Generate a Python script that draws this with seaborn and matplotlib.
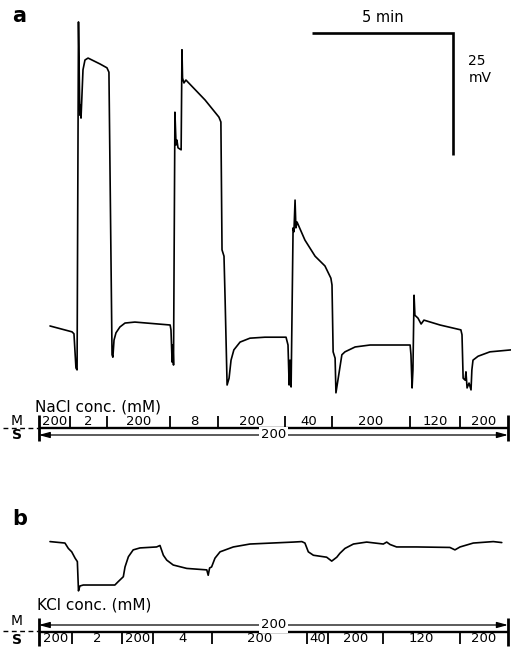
import numpy as np
import pandas as pd
import matplotlib
matplotlib.use("Agg")
import matplotlib.pyplot as plt
import matplotlib.transforms as mtransforms
import seaborn as sns

# ---- Panel a: potential recorded while the NaCl concentration is switched ----
# time in min, potential in mV (relative to the 200 mM level)
time_a = [0, 0.78, 0.85, 0.92, 0.96, 1.01, 1.05, 1.06, 1.08, 1.10, 1.17, 1.24, 1.35, 1.77,
          2.02, 2.09, 2.20, 2.23, 2.27, 2.34, 2.48, 2.66, 3.01, 4.26, 4.29, 4.33, 4.36, 4.38,
          4.43, 4.47, 4.50, 4.54, 4.65, 4.68, 4.70, 4.75, 4.82, 5.50, 5.99, 6.06, 6.10, 6.17,
          6.21, 6.28, 6.35, 6.42, 6.52, 6.74, 7.09, 7.62, 8.16, 8.37, 8.44, 8.48, 8.51, 8.55,
          8.62, 8.65, 8.69, 8.72, 8.76, 9.04, 9.40, 9.75, 9.96, 10.00, 10.04, 10.11, 10.14,
          10.21, 10.35, 10.46, 10.82, 11.35, 12.77, 12.80, 12.84, 12.87, 12.91, 12.94, 13.05,
          13.16, 13.26, 13.83, 14.57, 14.61, 14.65, 14.72, 14.75, 14.79, 14.86, 14.93, 14.96,
          15.00, 15.18, 15.60, 16.35]
volt_a = [-0.2, -1.4, -1.8, -8.8, -9.2, 62.1, 46.1, 43.0, 45.1, 42.4, 52.3, 54.3, 54.7, 53.5,
          52.7, 51.8, -6.1, -6.6, -3.1, -1.6, -0.4, 0.4, 0.6, 0.0, -1.0, -7.6, -4.1, -8.2,
          43.6, 36.9, 37.9, 36.3, 35.9, 56.4, 50.6, 49.6, 50.2, 46.1, 42.6, 41.6, 15.4, 14.1,
          5.1, -12.3, -10.9, -7.2, -5.1, -3.5, -2.7, -2.5, -2.5, -2.5, -4.1, -12.3, -7.2, -12.7,
          19.9, 19.1, 25.6, 19.9, 21.1, 17.4, 14.1, 12.1, 9.6, 8.2, -5.5, -6.8, -13.9,
          -11.3, -6.1, -5.5, -4.5, -4.1, -4.1, -6.1, -12.9, -9.2, 6.1, 2.0, 1.4,
          0.2, 1.0, 0.0, -1.0, -2.0, -10.9, -11.3, -9.6, -12.9, -11.9, -13.3, -9.2,
          -7.2, -6.4, -5.5, -5.1]

# ---- Panel b: potential recorded while the KCl concentration is switched ----
time_b = [0, 0.53, 0.65, 0.77, 0.89, 0.97, 1.00, 1.01, 1.06, 1.18, 2.30, 2.42, 2.60, 2.66,
          2.78, 2.95, 3.19, 3.78, 3.90, 4.02, 4.14, 4.37, 4.85, 5.56, 5.61, 5.66, 5.73, 5.85,
          6.03, 6.50, 7.09, 8.63, 8.93, 9.04, 9.16, 9.34, 9.81, 9.99, 10.17, 10.28, 10.46,
          10.76, 11.23, 11.82, 11.94, 12.06, 12.29, 13.00, 14.18, 14.36, 14.54, 15.01, 15.72,
          16.02]
volt_b = [0.7, 0.4, -0.7, -1.4, -2.7, -3.4, -7.9, -9.4, -8.4, -8.2, -8.2, -7.5, -6.5, -4.5,
          -2.4, -1.0, -0.6, -0.4, -0.1, -2.1, -3.1, -4.1, -4.8, -5.1, -6.2, -4.7, -4.5, -2.7,
          -1.4, -0.4, 0.2, 0.6, 0.7, 0.4, -1.4, -2.1, -2.5, -3.3, -2.5, -1.7, -0.7,
          0.2, 0.6, 0.2, 0.6, 0.1, -0.4, -0.4, -0.5, -1.0, -0.4, 0.4, 0.7,
          0.5]

# ---- Solution schedules: switching times (min) and concentrations (mM) ----
nacl_bounds = [-0.40, 0.71, 2.02, 4.26, 5.96, 8.33, 10.00, 12.77, 14.54, 16.24]
nacl_conc = ["200", "2", "200", "8", "200", "40", "200", "120", "200"]
nacl_other_side = "200"

kcl_bounds = [-0.40, 0.78, 2.55, 3.65, 5.74, 9.11, 9.86, 11.81, 14.54, 16.24]
kcl_conc = ["200", "2", "200", "4", "200", "40", "200", "120", "200"]
kcl_other_side = "200"

# calibration bars
scale_minutes = 5
scale_millivolts = 25

sns.set_theme(style="white")
plt.rcParams["font.family"] = ["DejaVu Sans"]
plt.rcParams["text.color"] = "black"

W, H = 511, 653
PX_MIN = 28.2      # horizontal scale, px per minute
PX_MV = 4.88       # vertical scale, px per mV
T_LEFT = -50 / PX_MIN
T_RIGHT = (W - 50) / PX_MIN

fig = plt.figure(figsize=(W / 100, H / 100), dpi=100)
fig.patch.set_facecolor("white")


def add_axes(top_px, bottom_px):
    ax = fig.add_axes([0, 1 - bottom_px / H, 1, (bottom_px - top_px) / H])
    ax.set_axis_off()
    return ax


# ---- trace axes ----
ax_a = add_axes(0, 395)
sns.lineplot(data=pd.DataFrame({"t": time_a, "v": volt_a}), x="t", y="v", sort=False,
             estimator=None, color="black", linewidth=1.2, ax=ax_a)
ax_a.set_xlim(T_LEFT, T_RIGHT)
ax_a.set_ylim((325 - 395) / PX_MV, 325 / PX_MV)
ax_a.set_axis_off()

ax_b = add_axes(500, 600)
sns.lineplot(data=pd.DataFrame({"t": time_b, "v": volt_b}), x="t", y="v", sort=False,
             estimator=None, color="black", linewidth=1.2, ax=ax_b)
ax_b.set_xlim(T_LEFT, T_RIGHT)
ax_b.set_ylim((545 - 600) / PX_MV, (545 - 500) / PX_MV)
ax_b.set_axis_off()

# ---- calibration bars (5 min / 25 mV) ----
corner_t, corner_v = 14.29, 59.8
ax_a.plot([corner_t - scale_minutes, corner_t, corner_t],
          [corner_v, corner_v, corner_v - scale_millivolts],
          color="black", lw=1.9, solid_joinstyle="miter", solid_capstyle="butt")
ax_a.text(corner_t - scale_minutes / 2, corner_v + 1.6, f"{scale_minutes} min",
          ha="center", va="bottom", fontsize=10.5)
ax_a.text(corner_t + 0.55, corner_v - 7.5, f"{scale_millivolts}\nmV",
          ha="left", va="center", fontsize=10, linespacing=1.3)

# ---- panel letters ----
fig.text(12 / W, 1 - 6 / H, "a", fontsize=15, fontweight="bold", ha="left", va="top")
fig.text(12 / W, 1 - 509 / H, "b", fontsize=15, fontweight="bold", ha="left", va="top")


def side_label(ax, y_m, y_s, y_frac):
    tr = mtransforms.blended_transform_factory(ax.transAxes, ax.transData)
    ax.text(17 / W, y_m, "M", transform=tr, ha="center", va="center", fontsize=10)
    ax.text(17 / W, y_s, "S", transform=tr, ha="center", va="center", fontsize=10,
            fontweight="bold")
    ax.plot([3 / W, 38 / W], [y_frac, y_frac], transform=tr, color="black", lw=1.0,
            ls=(0, (3.5, 2.5)))


def stepped_row(ax, bounds, labels, y_line, y_top, y_text):
    ax.plot([bounds[0], bounds[-1]], [y_line, y_line], color="black", lw=1.7,
            solid_capstyle="butt")
    for b in bounds[1:-1]:
        ax.plot([b, b], [y_line, y_top], color="black", lw=1.3, solid_capstyle="butt")
    for lo, hi, lab in zip(bounds[:-1], bounds[1:], labels):
        ax.text((lo + hi) / 2, y_text, lab, ha="center", va="center", fontsize=9.5)


def arrow_row(ax, start, end, y, label):
    ax.annotate("", xy=(end, y), xytext=(start, y),
                arrowprops=dict(arrowstyle="<|-|>,head_length=0.55,head_width=0.15",
                                color="black", lw=0.9, shrinkA=0, shrinkB=0,
                                mutation_scale=12))
    ax.text((start + end) / 2, y, label, ha="center", va="center", fontsize=9.5,
            bbox=dict(facecolor="white", edgecolor="none", pad=1.2))


# ---- NaCl schedule (M side stepped, S side constant) ----
ax_sa = add_axes(395, 450)
ax_sa.set_xlim(T_LEFT, T_RIGHT)
ax_sa.set_ylim(450, 395)
tr_sa = mtransforms.blended_transform_factory(ax_sa.transAxes, ax_sa.transData)
ax_sa.text(35 / W, 407, "NaCl conc. (mM)", transform=tr_sa, ha="left", va="center",
           fontsize=11)
stepped_row(ax_sa, nacl_bounds, nacl_conc, y_line=428, y_top=416, y_text=421.5)
arrow_row(ax_sa, nacl_bounds[0], nacl_bounds[-1], 435, nacl_other_side)
for b in (nacl_bounds[0], nacl_bounds[-1]):
    ax_sa.plot([b, b], [415, 441], color="black", lw=2.0, solid_capstyle="butt")
side_label(ax_sa, 421, 435, 428)
ax_sa.set_axis_off()

# ---- KCl schedule (M side constant, S side stepped) ----
ax_sb = add_axes(595, 653)
ax_sb.set_xlim(T_LEFT, T_RIGHT)
ax_sb.set_ylim(653, 595)
tr_sb = mtransforms.blended_transform_factory(ax_sb.transAxes, ax_sb.transData)
ax_sb.text(37 / W, 605, "KCl conc. (mM)", transform=tr_sb, ha="left", va="center",
           fontsize=11)
arrow_row(ax_sb, kcl_bounds[0], kcl_bounds[-1], 625, kcl_other_side)
stepped_row(ax_sb, kcl_bounds, kcl_conc, y_line=632, y_top=644, y_text=639)
for b in (kcl_bounds[0], kcl_bounds[-1]):
    ax_sb.plot([b, b], [618, 646], color="black", lw=2.0, solid_capstyle="butt")
side_label(ax_sb, 621, 640, 631)
ax_sb.set_axis_off()

fig.savefig("out.png", dpi=100, facecolor="white")
